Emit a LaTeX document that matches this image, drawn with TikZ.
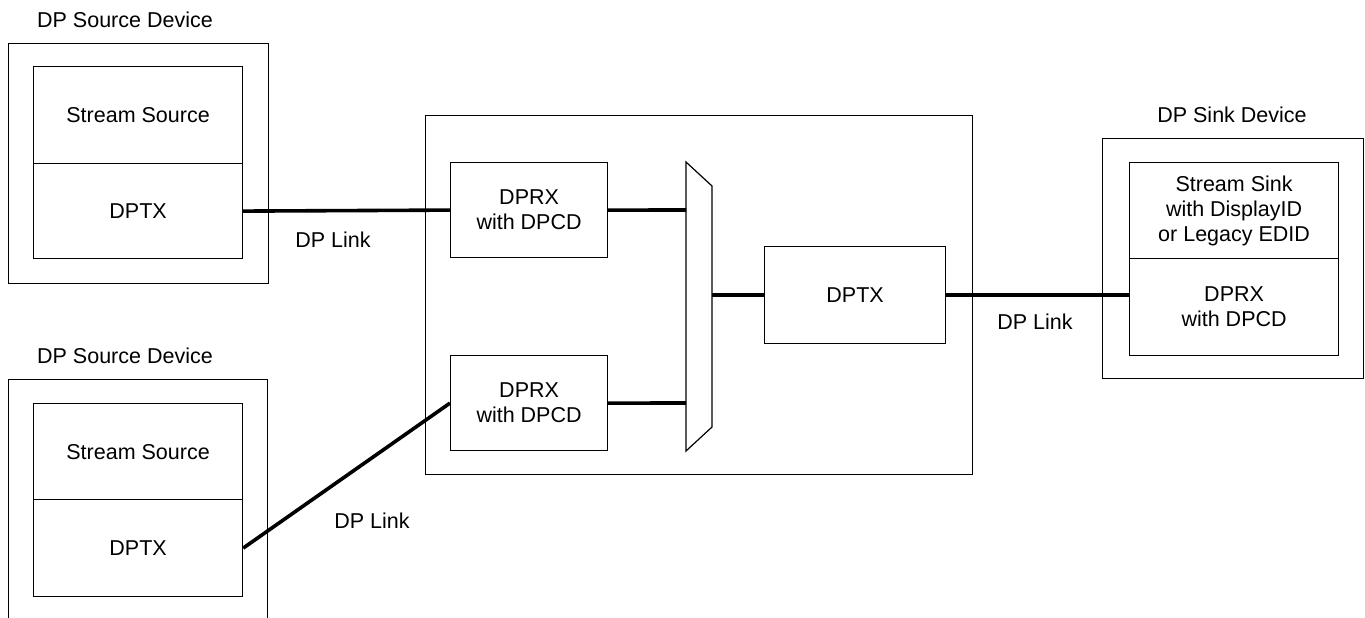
\documentclass[tikz,border=0pt]{standalone}
\usepackage{fontspec}
\setmainfont{Liberation Sans}
\begin{document}
\begin{tikzpicture}[x=1pt,y=-1pt,
  thin box/.style={draw, line width=1.2pt, inner sep=0pt, anchor=north west,
    align=center, font=\fontsize{21.5}{25}\selectfont},
  frame/.style={draw, line width=1.2pt},
  link/.style={line width=3.6pt},
  lbl/.style={font=\fontsize{21.5}{25}\selectfont, inner sep=0pt}]
\useasboundingbox (0,0) rectangle (1365,618);

% --- upper source device ---
\node[lbl] (src1lbl) at (125,20) {DP Source Device};
\node[thin box, minimum width=260pt, minimum height=240pt] (src1) at (8,43) {};
\node[thin box, minimum width=209pt, minimum height=97pt] (ss1) at (33,66) {Stream Source};
\node[thin box, minimum width=209pt, minimum height=95pt] (tx1) at (33,163) {DPTX};

% --- lower source device (runs off the bottom edge) ---
\node[lbl] (src2lbl) at (125,356) {DP Source Device};
\draw[frame] (8.6,618) -- (8.6,379.6) -- (267.4,379.6) -- (267.4,618);
\node[thin box, minimum width=209pt, minimum height=96pt] (ss2) at (33,403) {Stream Source};
\node[thin box, minimum width=209pt, minimum height=97pt] (tx2) at (33,499) {DPTX};

% --- branch device ---
\node[thin box, minimum width=547pt, minimum height=359pt] (branch) at (425,115) {};
\node[thin box, minimum width=157pt, minimum height=95pt] (rx1) at (450,162) {DPRX\\with DPCD};
\node[thin box, minimum width=157pt, minimum height=95pt] (rx2) at (450,355) {DPRX\\with DPCD};
\node[thin box, minimum width=181pt, minimum height=97pt] (txm) at (764,246) {DPTX};

% multiplexer
\coordinate (mtl) at (686,162);
\coordinate (mtr) at (712,186);
\coordinate (mbr) at (712,427);
\coordinate (mbl) at (686,451);
\draw[frame, line join=miter] (mtl) -- (mtr) -- (mbr) -- (mbl) -- cycle;
\coordinate (min1) at (686,210);
\coordinate (min2) at (686,403);
\coordinate (mout) at (712,295);

% --- sink device ---
\node[lbl] (snklbl) at (1232,115) {DP Sink Device};
\node[thin box, minimum width=261pt, minimum height=240pt] (snk) at (1102,138) {};
\node[thin box, minimum width=209pt, minimum height=96pt] (ssk) at (1129,162) {Stream Sink\\with DisplayID\\or Legacy EDID};
\node[thin box, minimum width=209pt, minimum height=97pt] (rxk) at (1129,258) {DPRX\\with DPCD};

% --- links ---
\draw[link] (tx1.east) -- (rx1.west);
\draw[link] (rx1.east) -- (min1);
\draw[link] (rx2.east) -- (min2);
\draw[link] (mout) -- (mout -| txm.west);
\draw[link] (txm.east |- mout) -- (mout -| rxk.west);
\draw[link] (tx2.east) -- (rx2.west);

\node[lbl] (l1) at (333,240) {DP Link};
\node[lbl] (l2) at (1035,322) {DP Link};
\node[lbl] (l3) at (372,521) {DP Link};
\end{tikzpicture}
\end{document}
